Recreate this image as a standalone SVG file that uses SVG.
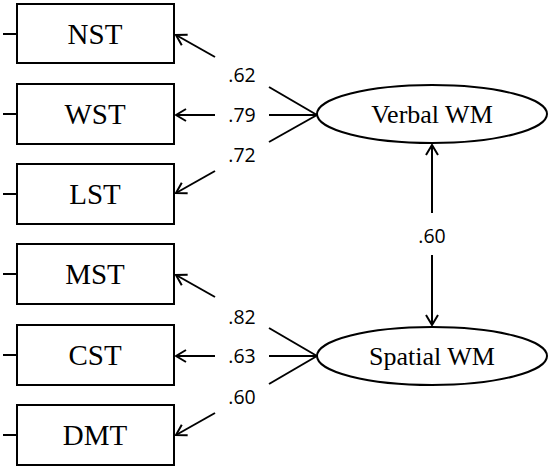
<svg xmlns="http://www.w3.org/2000/svg" width="550" height="470" viewBox="0 0 550 470">
<style>
.box{fill:#fff;stroke:#000;stroke-width:2}
.ell{fill:#fff;stroke:#000;stroke-width:2}
.ln{stroke:#000;stroke-width:2;fill:none}
.lbl{font-family:"Liberation Serif",serif;font-size:29px;text-anchor:middle;fill:#000}
.lat{font-family:"Liberation Serif",serif;font-size:26px;text-anchor:middle;fill:#000}
.num{font-family:"Open Sans","Liberation Sans",sans-serif;font-size:19.5px;text-anchor:middle;fill:#000}
</style>
<defs>
<marker id="ah" markerUnits="userSpaceOnUse" markerWidth="16" markerHeight="16" refX="15" refY="8" orient="auto" viewBox="0 0 16 16">
<path d="M5,2 L15,8 L5,14" fill="none" stroke="#000" stroke-width="2"/>
</marker>
</defs>
<g id="NST"><line class="ln" x1="3" y1="34" x2="17" y2="34"/><rect class="box" x="17" y="4" width="157" height="59"/><text class="lbl" x="95" y="44">NST</text></g>
<g id="WST"><line class="ln" x1="3" y1="114" x2="17" y2="114"/><rect class="box" x="17" y="84" width="157" height="60"/><text class="lbl" x="95" y="124">WST</text></g>
<g id="LST"><line class="ln" x1="3" y1="194" x2="17" y2="194"/><rect class="box" x="17" y="164" width="157" height="60"/><text class="lbl" x="95" y="204">LST</text></g>
<g id="MST"><line class="ln" x1="3" y1="274" x2="17" y2="274"/><rect class="box" x="17" y="244" width="157" height="60"/><text class="lbl" x="95" y="284">MST</text></g>
<g id="CST"><line class="ln" x1="3" y1="355" x2="17" y2="355"/><rect class="box" x="17" y="325" width="157" height="60"/><text class="lbl" x="95" y="365">CST</text></g>
<g id="DMT"><line class="ln" x1="3" y1="435" x2="17" y2="435"/><rect class="box" x="17" y="405" width="157" height="60"/><text class="lbl" x="95" y="445">DMT</text></g>
<g id="VerbalWM"><ellipse class="ell" cx="432" cy="114" rx="115" ry="29"/><text class="lat" x="432" y="123">Verbal WM</text></g>
<g id="SpatialWM"><ellipse class="ell" cx="432" cy="356" rx="115" ry="29"/><text class="lat" x="432" y="365">Spatial WM</text></g>
<g id="connectors">
<line class="ln" x1="317" y1="115" x2="269" y2="87"/>
<line class="ln" x1="215" y1="57" x2="176" y2="35" marker-end="url(#ah)"/>
<line class="ln" x1="317" y1="115" x2="269" y2="115"/>
<line class="ln" x1="215" y1="115" x2="176" y2="115" marker-end="url(#ah)"/>
<line class="ln" x1="317" y1="115" x2="269" y2="142"/>
<line class="ln" x1="215" y1="171" x2="176" y2="193" marker-end="url(#ah)"/>
<line class="ln" x1="317" y1="356" x2="269" y2="328"/>
<line class="ln" x1="215" y1="297" x2="176" y2="275" marker-end="url(#ah)"/>
<line class="ln" x1="317" y1="356" x2="269" y2="356"/>
<line class="ln" x1="215" y1="356" x2="176" y2="356" marker-end="url(#ah)"/>
<line class="ln" x1="317" y1="356" x2="269" y2="384"/>
<line class="ln" x1="215" y1="413" x2="176" y2="435" marker-end="url(#ah)"/>
<line class="ln" x1="432" y1="213" x2="432" y2="145" marker-end="url(#ah)"/>
<line class="ln" x1="432" y1="255" x2="432" y2="325" marker-end="url(#ah)"/>
<text class="num" x="242" y="82">.62</text>
<text class="num" x="242" y="122">.79</text>
<text class="num" x="242" y="162">.72</text>
<text class="num" x="242" y="324">.82</text>
<text class="num" x="242" y="363">.63</text>
<text class="num" x="242" y="404">.60</text>
<text class="num" x="432" y="243">.60</text>
</g>
</svg>
